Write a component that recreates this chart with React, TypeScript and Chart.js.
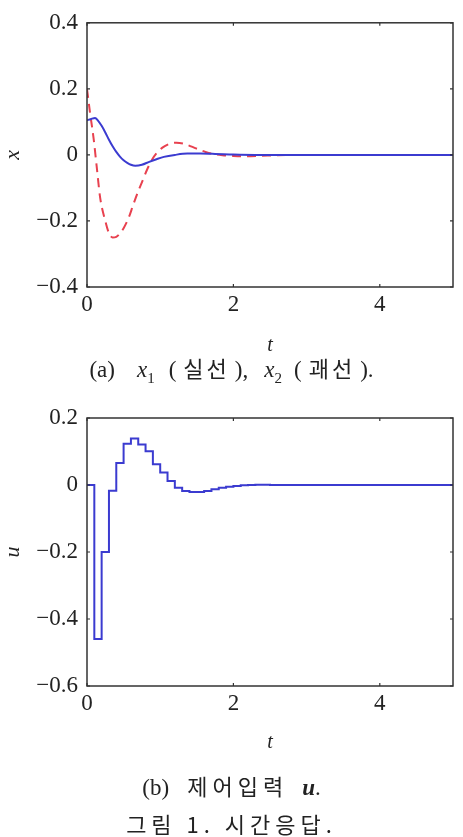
import React, { useEffect, useRef } from "react";
import { Chart, registerables } from "chart.js";

Chart.register(...registerables);

// ---- Data ----
const x1Times = [0, 0.05, 0.11, 0.15, 0.2, 0.25, 0.3, 0.35, 0.4, 0.45, 0.5, 0.55, 0.6, 0.66, 0.75, 0.85, 0.95, 1.05, 1.2, 1.37, 1.55, 1.75, 2.0, 2.3, 5];
const x1Values = [0.105, 0.108, 0.112, 0.104, 0.088, 0.068, 0.046, 0.026, 0.009, -0.005, -0.016, -0.024, -0.03, -0.033, -0.03, -0.021, -0.013, -0.006, 0, 0.004, 0.004, 0.003, 0.001, 0, 0];

const x2Times = [0, 0.04, 0.09, 0.13, 0.18, 0.25, 0.3, 0.35, 0.4, 0.45, 0.5, 0.57, 0.63, 0.7, 0.75, 0.82, 0.89, 0.95, 1.03, 1.12, 1.22, 1.32, 1.42, 1.52, 1.62, 1.72, 1.85, 2.0, 2.15, 2.35, 2.6, 2.9, 5];
const x2Values = [0.2, 0.13, 0.05, -0.03, -0.13, -0.2, -0.237, -0.25, -0.248, -0.238, -0.222, -0.19, -0.152, -0.11, -0.083, -0.045, -0.014, 0.005, 0.022, 0.033, 0.037, 0.034, 0.026, 0.017, 0.009, 0.003, -0.001, -0.003, -0.004, -0.003, -0.001, 0, 0];

const uTimes = [0, 0.1, 0.2, 0.3, 0.4, 0.5, 0.6, 0.7, 0.8, 0.9, 1.0, 1.1, 1.2, 1.3, 1.4, 1.5, 1.6, 1.7, 1.8, 1.9, 2.0, 2.1, 2.2, 2.3, 2.4, 2.5, 5];
const uValues = [0, -0.46, -0.2, -0.017, 0.066, 0.123, 0.139, 0.121, 0.101, 0.062, 0.037, 0.012, -0.008, -0.018, -0.021, -0.021, -0.018, -0.013, -0.008, -0.005, -0.003, -0.001, 0, 0.001, 0.001, 0, 0];

const xTicks = [0, 2, 4];
const topYTicks = [-0.4, -0.2, 0, 0.2, 0.4];
const bottomYTicks = [-0.6, -0.4, -0.2, 0, 0.2];

const SERIF = '"Liberation Serif", "DejaVu Serif", serif';
const AXIS_COLOR = "#333333";
const BLUE = "#3b3bd0";
const RED = "#e8414f";

const fmtY = (v: number) => {
  const r = Math.round(v * 10) / 10;
  if (r === 0) return "0";
  return (r < 0 ? "\u2212" : "") + Math.abs(r).toFixed(1);
};
const fmtX = (v: number) => String(Math.round(v));

const zip = (xs: number[], ys: number[]) => xs.map((x, i) => ({ x, y: ys[i] }));

const framePlugin = {
  id: "frame",
  afterDraw(chart: any) {
    const { ctx, chartArea } = chart;
    const { left, right, top, bottom } = chartArea;
    const xs = chart.scales.x;
    const ys = chart.scales.y;
    ctx.save();
    ctx.strokeStyle = AXIS_COLOR;
    ctx.lineWidth = 1.5;
    ctx.strokeRect(left, top, right - left, bottom - top);
    ctx.lineWidth = 1.2;
    const L = 3;
    ctx.beginPath();
    for (const t of xs.ticks) {
      const px = xs.getPixelForValue(t.value);
      ctx.moveTo(px, bottom);
      ctx.lineTo(px, bottom - L);
      ctx.moveTo(px, top);
      ctx.lineTo(px, top + L);
    }
    for (const t of ys.ticks) {
      const py = ys.getPixelForValue(t.value);
      ctx.moveTo(left, py);
      ctx.lineTo(left + L, py);
      ctx.moveTo(right, py);
      ctx.lineTo(right - L, py);
    }
    ctx.stroke();
    ctx.restore();
  },
};

function makeOptions(yMin: number, yMax: number, yTicks: number[], yTitle: string, xAxisHeight: number, padTop: number) {
  return {
    responsive: false,
    animation: false as const,
    devicePixelRatio: 1,
    layout: { padding: { top: padTop, right: 10, left: 0, bottom: 0 } },
    plugins: { legend: { display: false }, tooltip: { enabled: false } },
    elements: { point: { radius: 0 } },
    scales: {
      x: {
        type: "linear" as const,
        min: 0,
        max: 5,
        grid: { display: false, drawTicks: false },
        border: { display: false },
        afterBuildTicks: (scale: any) => {
          scale.ticks = xTicks.map((v) => ({ value: v }));
        },
        afterFit: (scale: any) => {
          scale.height = xAxisHeight;
        },
        ticks: {
          color: "#222",
          font: { family: SERIF, size: 23 },
          padding: 4,
          maxRotation: 0,
          callback: (v: any) => fmtX(Number(v)),
        },
        title: {
          display: true,
          text: "t",
          color: "#222",
          font: { family: SERIF, size: 20, style: "italic" as const },
          padding: 0,
        },
      },
      y: {
        type: "linear" as const,
        min: yMin,
        max: yMax,
        grid: { display: false, drawTicks: false },
        border: { display: false },
        afterBuildTicks: (scale: any) => {
          scale.ticks = yTicks.map((v) => ({ value: v }));
        },
        afterFit: (scale: any) => {
          scale.width = 87;
        },
        ticks: {
          color: "#222",
          font: { family: SERIF, size: 23 },
          padding: 9,
          callback: (v: any) => fmtY(Number(v)),
        },
        title: {
          display: true,
          text: yTitle,
          color: "#222",
          font: { family: SERIF, size: 22, style: "italic" as const },
          padding: 0,
        },
      },
    },
  };
}

function TopChart() {
  const ref = useRef<HTMLCanvasElement>(null);
  useEffect(() => {
    const chart = new Chart(ref.current!, {
      type: "line",
      data: {
        datasets: [
          {
            data: zip(x1Times, x1Values),
            borderColor: BLUE,
            borderWidth: 2,
            cubicInterpolationMode: "monotone",
            fill: false,
          },
          {
            data: zip(x2Times, x2Values),
            borderColor: RED,
            borderWidth: 2,
            borderDash: [9, 6],
            cubicInterpolationMode: "monotone",
            fill: false,
          },
        ],
      },
      options: makeOptions(-0.4, 0.4, topYTicks, "x", 71, 18) as any,
      plugins: [framePlugin],
    });
    return () => chart.destroy();
  }, []);
  return <canvas ref={ref} width={463} height={358} style={{ display: "block" }} />;
}

function BottomChart() {
  const ref = useRef<HTMLCanvasElement>(null);
  useEffect(() => {
    const chart = new Chart(ref.current!, {
      type: "line",
      data: {
        datasets: [
          {
            data: zip(uTimes, uValues),
            borderColor: BLUE,
            borderWidth: 2,
            stepped: "before",
            fill: false,
          },
        ],
      },
      options: makeOptions(-0.6, 0.2, bottomYTicks, "u", 69, 38) as any,
      plugins: [framePlugin],
    });
    return () => chart.destroy();
  }, []);
  return <canvas ref={ref} width={463} height={375} style={{ display: "block" }} />;
}

const capStyle: React.CSSProperties = {
  position: "absolute",
  left: 0,
  width: 463,
  textAlign: "center",
  color: "#222",
  whiteSpace: "nowrap",
  lineHeight: "26px",
};

const MIX = '"Liberation Serif", "Noto Sans CJK KR", serif';
const KO: React.CSSProperties = { fontFamily: '"Noto Sans CJK KR", sans-serif', letterSpacing: 3, fontSize: 22 };

function Paren({ text, end }: { text: string; end: string }) {
  return (
    <span>
      (<span style={{ ...KO, margin: "0 5px 0 7px" }}>{text}</span>){end}
    </span>
  );
}

export default function App() {
  return (
    <div style={{ position: "absolute", left: 0, top: 0, width: 463, height: 837, background: "#fff", overflow: "hidden" }}>
      <div style={{ position: "absolute", left: 0, top: 0 }}>
        <TopChart />
      </div>
      <div style={{ ...capStyle, top: 354, fontFamily: MIX, fontSize: 23 }}>
        <span style={{ marginRight: 22 }}>(a)</span>
        <i>x</i><sub style={{ fontSize: 15 }}>1</sub>
        <span style={{ marginLeft: 14, marginRight: 16 }}><Paren text="실선" end="," /></span>
        <i>x</i><sub style={{ fontSize: 15 }}>2</sub>
        <span style={{ marginLeft: 12 }}><Paren text="괘선" end="." /></span>
      </div>
      <div style={{ position: "absolute", left: 0, top: 380 }}>
        <BottomChart />
      </div>
      <div style={{ ...capStyle, top: 772, fontFamily: MIX, fontSize: 23 }}>
        <span style={{ marginRight: 18 }}>(b)</span>
        <span style={{ ...KO, letterSpacing: 5, marginRight: 14 }}>제어입력</span>
        <b><i>u</i></b>.
      </div>
      <div style={{ ...capStyle, top: 810, fontFamily: '"Noto Sans CJK KR", sans-serif', fontSize: 22, letterSpacing: 5 }}>
        그림 1. 시간응답.
      </div>
    </div>
  );
}
